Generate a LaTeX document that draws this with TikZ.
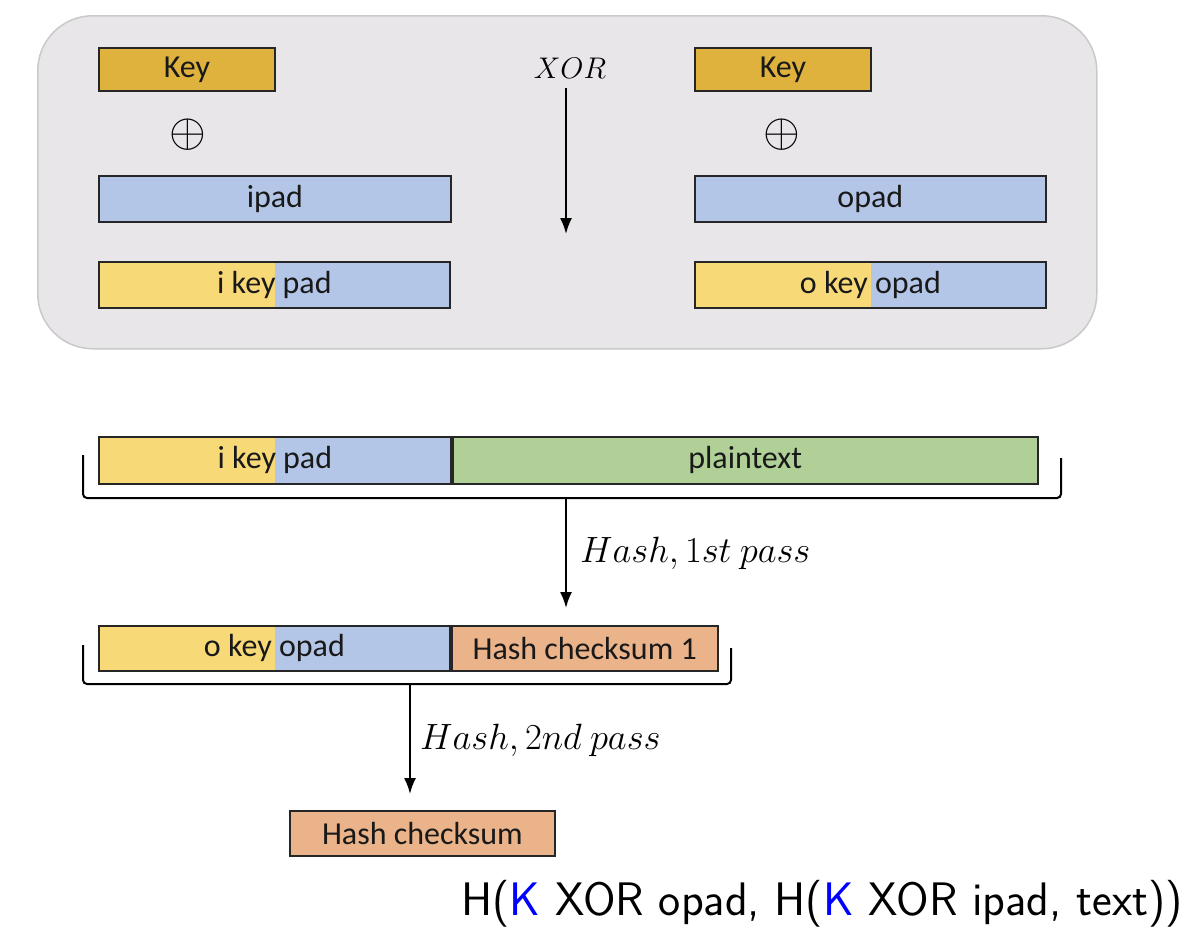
\documentclass[tikz,border=0pt]{standalone}
\usepackage{graphicx}
\usepackage{fontspec}
\setmainfont{Carlito}
\usetikzlibrary{arrows.meta}
\definecolor{keygold}{HTML}{DEB23D}
\definecolor{keylight}{HTML}{F8D978}
\definecolor{padblue}{HTML}{B4C6E7}
\definecolor{plaingreen}{HTML}{B0D098}
\definecolor{hashorange}{HTML}{EAB38A}
\definecolor{panelgray}{HTML}{E8E6E8}
\definecolor{panelline}{HTML}{C9C9C9}
\definecolor{Kblue}{HTML}{0000FF}
\newcommand{\bigmath}[2]{\scalebox{#1}{$#2$}}
\begin{document}
\begin{tikzpicture}[x=1pt,y=-1pt,
  field/.style={draw=black!85, line width=1.8pt, anchor=north west, inner sep=0pt,
    font=\fontsize{32}{38}\selectfont, text=black!90},
  splitfield/.style={field, fill=padblue, path picture={\fill[keylight]
    (path picture bounding box.north west) rectangle ([xshift=#1]path picture bounding box.south west);}},
  flow/.style={line width=1.9pt, -{Latex[length=16pt,width=12pt]}},
  bracketline/.style={line width=2pt, rounded corners=4pt},
  mlabel/.style={font=\fontsize{24.88}{30}\selectfont, anchor=west, inner sep=0pt},
  xorsym/.style={font=\fontsize{24.88}{30}\selectfont, inner sep=0pt},
]
\useasboundingbox (0,0) rectangle (1190,946);

% panel
\node[draw=panelline, fill=panelgray, line width=1.5pt, rounded corners=55pt,
  minimum width=1059pt, minimum height=333pt, anchor=north west, inner sep=0pt] (panel) at (37,15) {};

% left column
\node[field, fill=keygold, minimum width=176pt, minimum height=43pt] (keyL) at (98,47) {Key};
\node[xorsym] (xorL) at (188,135) {\bigmath{1.9}{\oplus}};
\node[field, fill=padblue, minimum width=352pt, minimum height=46pt] (ipad) at (98,175) {ipad};
\node[splitfield=176pt, minimum width=351pt, minimum height=46pt] (ikpT) at (98,261) {i key pad};

% XOR arrow
\node[font=\fontsize{24.88}{30}\selectfont, inner sep=0pt] (xorlbl) at (570,68) {\bigmath{1.2}{XOR}};
\coordinate (xs) at (566,88);
\coordinate (xe) at (566,234);
\draw[flow] (xs) -- (xe);

% right column
\node[field, fill=keygold, minimum width=176pt, minimum height=43pt] (keyR) at (694,47) {Key};
\node[xorsym] (xorR) at (782,135) {\bigmath{1.9}{\oplus}};
\node[field, fill=padblue, minimum width=351pt, minimum height=46pt] (opad) at (694,175) {opad};
\node[splitfield=176pt, minimum width=351pt, minimum height=46pt] (okpT) at (694,261) {o key opad};

% first pass row
\node[splitfield=176pt, minimum width=352pt, minimum height=47pt] (ikpB) at (98,436) {i key pad};
\node[field, fill=plaingreen, minimum width=585pt, minimum height=47pt] (plain) at (ikpB.north east) {plaintext};
\coordinate (b1a) at (83,455);
\coordinate (b1b) at (83,498);
\coordinate (b1c) at (1061,498);
\coordinate (b1d) at (1061,458);
\draw[bracketline] (b1a) -- (b1b) -- (b1c) -- (b1d);
\coordinate (h1s) at (566,498);
\coordinate (h1e) at (566,608);
\draw[flow] (h1s) -- (h1e);
\node[mlabel] (h1lbl) at (580,553) {\bigmath{1.47}{Hash, 1st\ pass}};

% second pass row
\node[splitfield=176pt, minimum width=351pt, minimum height=45pt] (okpB) at (98,625) {o key opad};
\node[field, fill=hashorange, minimum width=266pt, minimum height=45pt] (hc1) at (okpB.north east) {Hash checksum 1};
\coordinate (b2a) at (83,645);
\coordinate (b2b) at (83,684);
\coordinate (b2c) at (731,684);
\coordinate (b2d) at (731,648);
\draw[bracketline] (b2a) -- (b2b) -- (b2c) -- (b2d);
\coordinate (h2s) at (410,684);
\coordinate (h2e) at (410,794);
\draw[flow] (h2s) -- (h2e);
\node[mlabel] (h2lbl) at (420,740) {\bigmath{1.47}{Hash, 2nd\ pass}};

% result
\node[field, fill=hashorange, minimum width=265pt, minimum height=45pt] (hc) at (289,810) {Hash checksum};

% formula
\node[font=\sffamily\fontsize{47}{52}\selectfont, anchor=base east, inner sep=0pt] (formula) at (1183,915)
  {H(\textcolor{Kblue}{K} XOR opad, H(\textcolor{Kblue}{K} XOR ipad, text))};
\end{tikzpicture}
\end{document}
